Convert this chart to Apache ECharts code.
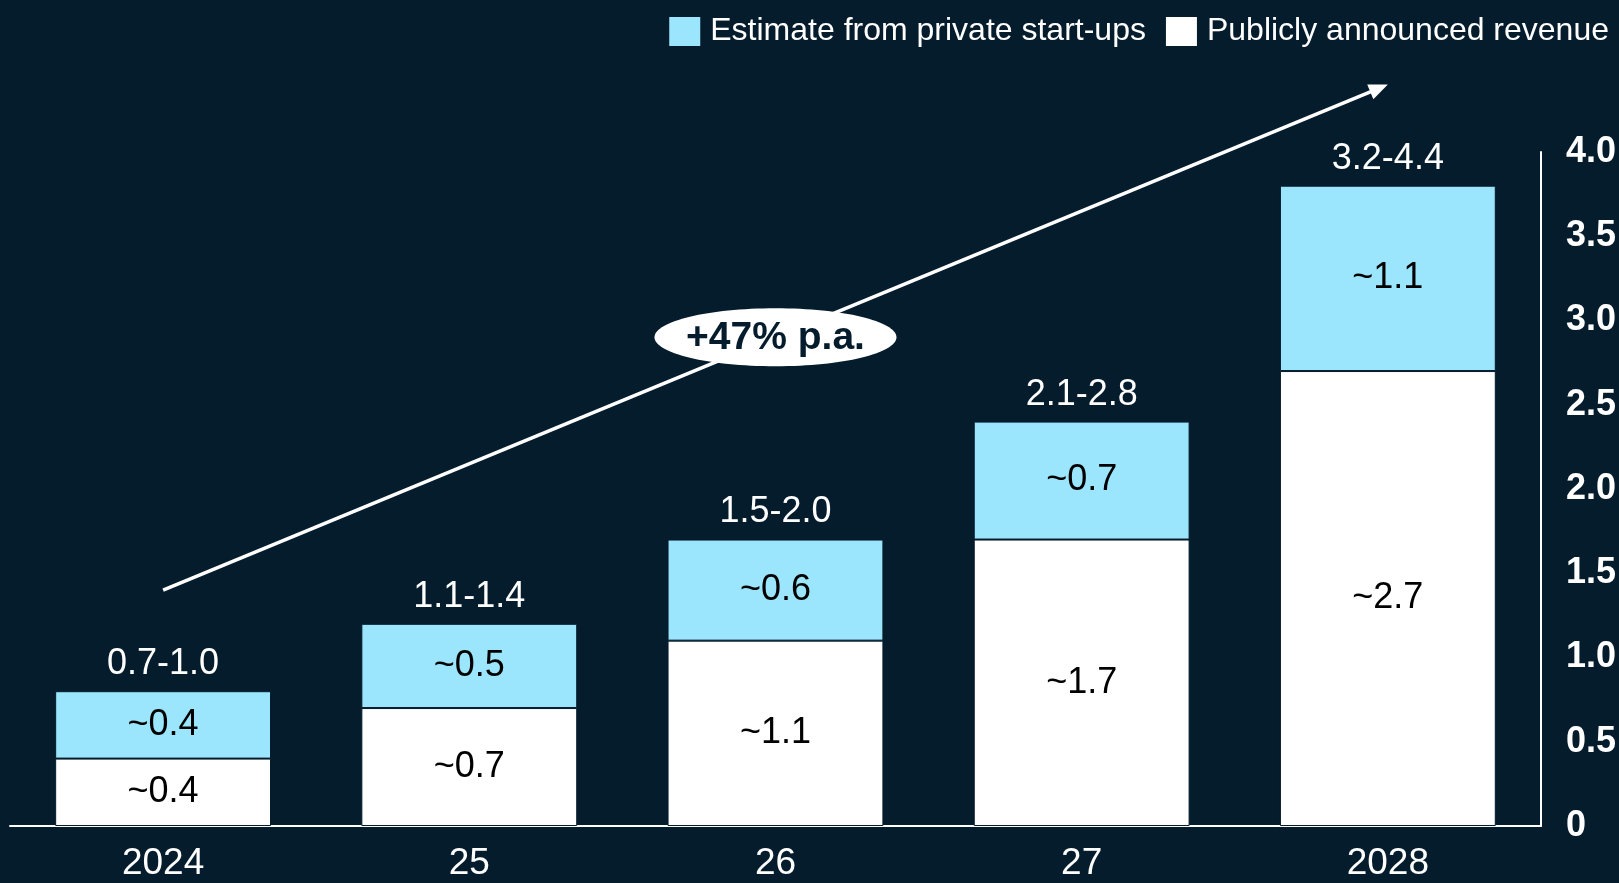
<!DOCTYPE html>
<html>
<head>
<meta charset="utf-8">
<script src="https://cdn.jsdelivr.net/npm/echarts@6/dist/echarts.min.js"></script>
<style>
  html, body { margin: 0; padding: 0; background: #051c2c; }
  #chart { width: 1619px; height: 883px; }
</style>
</head>
<body>
<div id="chart"></div>
<script>
// Years on the category axis
const categories = ['2024', '25', '26', '27', '2028'];
// Publicly announced revenue (bottom segment)
const publicRevenue = [0.4, 0.7, 1.1, 1.7, 2.7];
// Estimate from private start-ups (top segment)
const startupEstimate = [0.4, 0.5, 0.6, 0.7, 1.1];
// Range shown above each stacked bar
const rangeLabels = ['0.7-1.0', '1.1-1.4', '1.5-2.0', '2.1-2.8', '3.2-4.4'];
// Value axis
const axisMax = 4.0;
const axisStep = 0.5;
// Growth arrow: value at the first and last category
const growthArrow = [1.4, 4.4];
const growthLabel = '+47% p.a.';

const BG = '#051c2c';
const CYAN = '#9be6fd';
const FONT = '"Liberation Sans", Arial, sans-serif';

const chart = echarts.init(document.getElementById('chart'), null, { renderer: 'canvas' });

const option = {
  backgroundColor: BG,
  animation: false,
  textStyle: { fontFamily: FONT },
  legend: {
    data: ['Estimate from private start-ups', 'Publicly announced revenue'],
    right: 5,
    top: 10,
    icon: 'rect',
    itemWidth: 33,
    itemHeight: 31,
    itemGap: 18,
    textStyle: { color: '#ffffff', fontSize: 32, fontFamily: FONT, padding: [0, 0, 0, 4] }
  },
  grid: { left: 10, right: 78, top: 152, bottom: 57, containLabel: false },
  xAxis: {
    type: 'category',
    data: categories,
    axisLine: { show: true, lineStyle: { color: '#ffffff', width: 2 } },
    axisTick: { show: false },
    axisLabel: { color: '#ffffff', fontSize: 37, margin: 19, fontFamily: FONT }
  },
  yAxis: {
    type: 'value',
    position: 'right',
    min: 0,
    max: axisMax,
    interval: axisStep,
    axisLine: { show: true, lineStyle: { color: '#ffffff', width: 2 } },
    axisTick: { show: false },
    splitLine: { show: false },
    axisLabel: {
      color: '#ffffff', fontSize: 36, fontWeight: 'bold', margin: 25, fontFamily: FONT,
      padding: [6, 0, 0, 0],
      formatter: v => (v === 0 ? '0' : v.toFixed(1))
    }
  },
  series: [
    {
      name: 'Publicly announced revenue',
      type: 'bar',
      stack: 'total',
      data: publicRevenue,
      barCategoryGap: '29.5%',
      itemStyle: { color: '#ffffff', borderColor: BG, borderWidth: 1 },
      label: {
        show: true, position: 'inside', color: '#000000', fontSize: 36, fontFamily: FONT,
        formatter: p => '~' + p.value.toFixed(1)
      }
    },
    {
      name: 'Estimate from private start-ups',
      type: 'bar',
      stack: 'total',
      data: startupEstimate,
      barCategoryGap: '29.5%',
      itemStyle: { color: CYAN, borderColor: BG, borderWidth: 1 },
      label: {
        show: true, position: 'inside', color: '#000000', fontSize: 36, fontFamily: FONT,
        formatter: p => '~' + p.value.toFixed(1)
      }
    },
    {
      // Range labels sitting on top of each stack
      name: 'range',
      type: 'bar',
      stack: 'total',
      data: startupEstimate.map(() => 0),
      barCategoryGap: '29.5%',
      itemStyle: { color: 'transparent' },
      label: {
        show: true, position: 'top', distance: 9, color: '#ffffff', fontSize: 36, fontFamily: FONT,
        formatter: p => rangeLabels[p.dataIndex]
      },
      silent: true
    }
  ]
};

chart.setOption(option);

// Growth arrow with the CAGR bubble, placed through the grid's own scales
const p0 = chart.convertToPixel({ gridIndex: 0 }, [categories[0], growthArrow[0]]);
const p1 = chart.convertToPixel({ gridIndex: 0 }, [categories[categories.length - 1], growthArrow[1]]);
const ang = Math.atan2(p1[1] - p0[1], p1[0] - p0[0]);
const headLen = 19, headHalf = 8;
const base = [p1[0] - headLen * Math.cos(ang), p1[1] - headLen * Math.sin(ang)];
const nx = -Math.sin(ang), ny = Math.cos(ang);
const mid = [(p0[0] + p1[0]) / 2, (p0[1] + p1[1]) / 2];

chart.setOption({
  graphic: [
    {
      type: 'line', z: 10,
      shape: { x1: p0[0], y1: p0[1], x2: base[0] + 2 * Math.cos(ang), y2: base[1] + 2 * Math.sin(ang) },
      style: { stroke: '#ffffff', lineWidth: 3.5 }
    },
    {
      type: 'polygon', z: 10,
      shape: { points: [
        [p1[0], p1[1]],
        [base[0] + nx * headHalf, base[1] + ny * headHalf],
        [base[0] - nx * headHalf, base[1] - ny * headHalf]
      ] },
      style: { fill: '#ffffff' }
    },
    {
      type: 'ellipse', z: 11,
      shape: { cx: mid[0], cy: mid[1], rx: 121, ry: 29 },
      style: { fill: '#ffffff' }
    },
    {
      type: 'text', z: 12,
      x: mid[0], y: mid[1] + 1,
      style: {
        text: growthLabel, fill: BG, font: 'bold 39px ' + FONT,
        textAlign: 'center', textVerticalAlign: 'middle'
      }
    }
  ]
});
</script>
</body>
</html>
